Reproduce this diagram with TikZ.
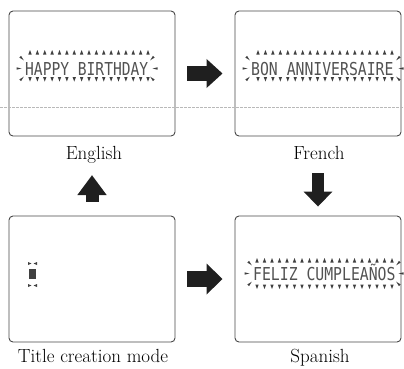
\documentclass[tikz,border=0pt]{standalone}
\usepackage{graphicx}
\usepackage{fontspec}
\newfontfamily\lcdfont{DejaVu Sans Mono}
\usetikzlibrary{arrows.meta}
\newcommand\lcdsparks[3]{% #1 text start x, #2 text end x, #3 middle y
  \fill[spark,shift={(#1-5,#3-10)},rotate=-45] (-2.5,-1.2) -- (2.5,0) -- (-2.5,1.2) -- cycle;
  \fill[spark,shift={(#1-8,#3)}] (-2.5,-1.2) -- (2.5,0) -- (-2.5,1.2) -- cycle;
  \fill[spark,shift={(#1-5,#3+10)},rotate=45] (-2.5,-1.2) -- (2.5,0) -- (-2.5,1.2) -- cycle;
  \fill[spark,shift={(#2+5,#3-10)},rotate=-135] (-2.5,-1.2) -- (2.5,0) -- (-2.5,1.2) -- cycle;
  \fill[spark,shift={(#2+8,#3)},rotate=180] (-2.5,-1.2) -- (2.5,0) -- (-2.5,1.2) -- cycle;
  \fill[spark,shift={(#2+5,#3+10)},rotate=135] (-2.5,-1.2) -- (2.5,0) -- (-2.5,1.2) -- cycle;
}
\newcommand\lcdrow[5]{% #1 first x, #2 spacing, #3 last index, #4 tip y, #5 base y
  \foreach \k in {0,...,#3}{
    \fill[tri] (#1+\k*#2-1.7,#5) -- (#1+\k*#2,#4) -- (#1+\k*#2+1.7,#5) -- cycle;
  }
}
\begin{document}
\begin{tikzpicture}[x=1pt,y=-1pt,
  lcd/.style={draw=black!72, line width=0.9pt, rounded corners=4pt,
    minimum width=166pt, minimum height=125pt, inner sep=0pt},
  lbl/.style={inner sep=0pt, font=\fontsize{19}{22}\selectfont},
  lcdtxt/.style={inner sep=0pt, anchor=base west, text=black!68,
    font=\fontsize{17.8}{20}\lcdfont},
  tri/.style={fill=black!75},
  spark/.style={fill=black!75},
  blockarrow/.style={line width=14pt, draw=black!88,
    -{Triangle[length=16pt,width=28pt,fill=black!88]}},
]
\useasboundingbox (0,0) rectangle (404,368);

% screens
\node[lcd] (eng) at (92,73.5) {};
\node[lcd] (fr)  at (318,73.5) {};
\node[lcd, minimum height=126pt] (tcm) at (92,279) {};
\node[lcd, minimum height=126pt] (sp)  at (318,279) {};

% scan line
\draw[gray!55, line width=0.6pt, dash pattern=on 3pt off 1pt] (0,107) -- (404,107);

% captions
\node[lbl, anchor=base] (englbl) at (94,159) {English};
\node[lbl, anchor=base] (frlbl)  at (319,159) {French};
\node[lbl, anchor=base] (tcmlbl) at (93,362) {Title creation mode};
\node[lbl, anchor=base] (splbl)  at (320,362) {Spanish};

% English banner
\node[lcdtxt] (engtxt) at (25,75) {\scalebox{0.82}[1]{HAPPY BIRTHDAY}};
\lcdrow{30}{7.375}{16}{50}{54.5}
\lcdrow{30}{7.375}{16}{81.5}{77}
\lcdsparks{27}{147}{68.5}

% French banner
\node[lcdtxt] (frtxt) at (251,75) {\scalebox{0.83}[1]{BON ANNIVERSAIRE}};
\lcdrow{258}{7.444}{18}{50}{54.5}
\lcdrow{258}{7.444}{18}{81.5}{77}
\lcdsparks{253}{393}{68.5}

% Spanish banner
\node[lcdtxt] (sptxt) at (253,280) {\scalebox{0.83}[1]{FELIZ CUMPLEAÑOS}};
\lcdrow{257}{7.5}{18}{258}{262.5}
\lcdrow{257}{7.5}{18}{289}{284.5}
\lcdsparks{255}{393}{273.5}

% cursor in title creation mode
\fill[black!75] (29,269) rectangle (36,279);
\fill[spark] (28,262) -- (31.5,263.5) -- (28,265) -- cycle;
\fill[spark] (37,262) -- (33.5,263.5) -- (37,265) -- cycle;
\fill[spark] (28,284) -- (31.5,285.5) -- (28,287) -- cycle;
\fill[spark] (37,284) -- (33.5,285.5) -- (37,287) -- cycle;

% block arrows
\draw[blockarrow, line width=15pt, shorten <=12pt, shorten >=12pt] (eng.east) -- (fr.west);
\draw[blockarrow, line width=16pt, -{Triangle[length=16pt,width=30pt,fill=black!88]},
  shorten <=12pt, shorten >=12pt] (tcm.east) -- (sp.west);
\draw[blockarrow, line width=13pt, -{Triangle[length=20pt,width=28pt,fill=black!88]},
  shorten <=14pt, shorten >=12pt] (tcm.north) -- (tcm.north |- englbl.south);
\draw[blockarrow, line width=12pt, -{Triangle[length=15pt,width=28pt,fill=black!88]},
  shorten <=14pt, shorten >=9pt] (fr.south |- frlbl.south) -- (sp.north);
\end{tikzpicture}
\end{document}
